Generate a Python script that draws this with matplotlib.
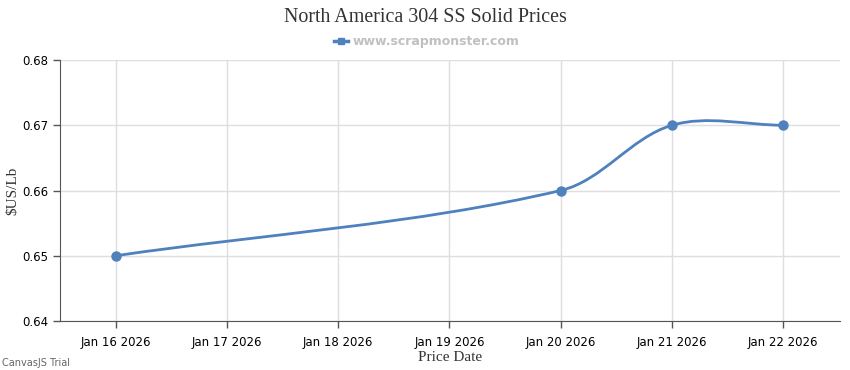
import matplotlib
matplotlib.use("Agg")
import matplotlib.pyplot as plt
import numpy as np
from matplotlib.path import Path
from matplotlib.patches import PathPatch
from matplotlib.lines import Line2D

# Data
dates = [16, 20, 21, 22]  # day of January 2026
prices = [0.65, 0.66, 0.67, 0.67]
tick_days = [16, 17, 18, 19, 20, 21, 22]
tick_labels = ["Jan 16 2026", "Jan 17 2026", "Jan 18 2026", "Jan 19 2026",
               "Jan 20 2026", "Jan 21 2026", "Jan 22 2026"]
y_ticks = [0.64, 0.65, 0.66, 0.67, 0.68]

color = "#4F81BC"

fig = plt.figure(figsize=(8.5, 3.7), dpi=100)
ax = fig.add_axes([60/850, 1-321/370, 780/850, 261/370])
ax.set_xlim(15.5, 22.51)
ax.set_ylim(0.64, 0.68)

# smooth spline through the points (tangent-direction Bezier in display space)
P = ax.transData.transform(np.column_stack([dates, prices]))
n = len(P)
def unit(v):
    d = np.hypot(*v)
    return v / d if d > 0 else v
verts = [tuple(P[0])]
codes = [Path.MOVETO]
for i in range(n - 1):
    seg = np.hypot(*(P[i+1] - P[i])) / 3
    t1 = unit(P[min(i+1, n-1)] - P[max(i-1, 0)])
    t2 = unit(P[min(i+2, n-1)] - P[i])
    verts += [tuple(P[i] + t1 * seg), tuple(P[i+1] - t2 * seg), tuple(P[i+1])]
    codes += [Path.CURVE4] * 3
verts_data = ax.transData.inverted().transform(np.array(verts))
ax.add_patch(PathPatch(Path(verts_data, codes), facecolor="none", edgecolor=color, lw=2, zorder=3))
ax.plot(dates, prices, "o", color=color, ms=6.5, zorder=4)

ax.set_xticks(tick_days)
ax.set_xticklabels(tick_labels)
ax.set_yticks(y_ticks)
ax.set_yticklabels([f"{v:.2f}" for v in y_ticks])
ax.grid(True, color="#dedede", lw=1)
ax.set_axisbelow(True)
for s in ["top", "right"]:
    ax.spines[s].set_visible(False)
ax.spines["left"].set_color("#555555")
ax.spines["bottom"].set_color("#555555")
ax.tick_params(axis="both", colors="#555555", labelcolor="#000000", labelsize=8.5, length=5, width=1)
ax.tick_params(axis="x", pad=6)

ax.set_xlabel("Price Date", family="Liberation Serif", fontsize=11, color="#333333", labelpad=1)
ax.set_ylabel("$US/Lb", family="Liberation Serif", fontsize=11, color="#333333", labelpad=2)

fig.text(0.5, 1 - 17/370, "North America 304 SS Solid Prices", ha="center", va="center",
         family="Liberation Serif", fontsize=14.4, color="#333333")

# legend
ly = 1 - 41/370
fig.add_artist(Line2D([334/850, 348/850], [ly, ly], color=color, lw=2.5, transform=fig.transFigure))
fig.add_artist(Line2D([341/850], [ly], marker="s", ms=5, color=color, transform=fig.transFigure))
fig.text(353/850, ly, "www.scrapmonster.com", ha="left", va="center", fontsize=9,
         fontweight="bold", color="#c0c0c0")

fig.text(2/850, 1 - 363/370, "CanvasJS Trial", ha="left", va="center", fontsize=7, color="#666666")

fig.savefig("out.png", dpi=100)
